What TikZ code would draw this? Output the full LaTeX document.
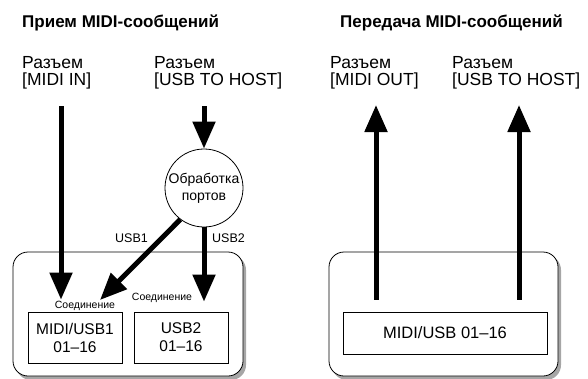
\documentclass[tikz,border=0pt]{standalone}
\usepackage{fontspec}
\setmainfont{Liberation Sans}
\usetikzlibrary{arrows.meta, positioning, calc}

\begin{document}
\begin{tikzpicture}[x=1pt, y=-1pt,
    heading/.style={font=\fontsize{17}{20}\selectfont\bfseries, anchor=base west, inner sep=0},
    jack/.style={font=\fontsize{17.5}{17.5}\selectfont, align=left, anchor=north west, inner sep=0},
    flow/.style={line width=5pt, -{Triangle[length=27pt, width=22pt]}},
    panel/.style={draw, line width=0.8pt, rounded corners=15pt, fill=white},
    shade/.style={fill=black!35, rounded corners=15pt},
    part/.style={draw, line width=0.8pt, font=\fontsize{15.5}{18}\selectfont, align=center, inner sep=0},
    tag/.style={font=\fontsize{10.5}{12}\selectfont, inner sep=0},
    portname/.style={font=\fontsize{12.5}{14}\selectfont, inner sep=0}]
    \useasboundingbox (0,0) rectangle (588,378);

    % receive side
    \node[heading] (rxtitle) at (22,27) {Прием MIDI-сообщений};
    \node[jack] (midiin) at (22,56) {Разъем\\{}[MIDI IN]};
    \node[jack] (usbin) at (154,56) {Разъем\\{}[USB TO HOST]};
    \fill[shade] (16,255) rectangle (246,380);
    \draw[panel] (13,252) rectangle (243,376);
    \node[part, minimum width=94pt, minimum height=51pt] (boxA) at (75,337.5) {MIDI/USB1\\01--16};
    \node[part, minimum width=94pt, minimum height=51pt] (boxB) at (181,337.5) {USB2\\01--16};
    \node[tag, anchor=south] (tagA) at (85,311) {Соединение};
    \node[tag] (tagB) at (162,298) {Соединение};
    \node[draw, circle, line width=0.8pt, minimum size=78pt, inner sep=0, align=center,
          font=\fontsize{14}{17}\selectfont] (proc) at (204,188) {Обработка\\портов};
    \coordinate (inA) at (61,106);
    \coordinate (inB) at (204,106);
    \coordinate (endA) at (100,300);
    \draw[flow, shorten >=12pt] (inA) -- (inA |- boxA.north);
    \draw[flow] (inB) -- (proc.north);
    \draw[flow] (proc.233) -- (endA);
    \draw[flow, shorten >=10pt] (proc.south) -- (proc.south |- boxB.north);
    \node[portname, anchor=east] (usb1) at (148,238) {USB1};
    \node[portname, anchor=west] (usb2) at (212,238) {USB2};

    % transmit side
    \node[heading] (txtitle) at (340,27) {Передача MIDI-сообщений};
    \node[jack] (midiout) at (330,56) {Разъем\\{}[MIDI OUT]};
    \node[jack] (usbout) at (452,56) {Разъем\\{}[USB TO HOST]};
    \fill[shade] (332,255) rectangle (561,380);
    \draw[panel] (329,252) rectangle (558,376);
    \node[part, minimum width=204pt, minimum height=42pt, font=\fontsize{16.5}{18}\selectfont] (boxC) at (445,333) {MIDI/USB 01--16};
    \coordinate (outA) at (376,105);
    \coordinate (outB) at (519,105);
    \draw[flow, shorten <=12pt] (outA |- boxC.north) -- (outA);
    \draw[flow, shorten <=12pt] (outB |- boxC.north) -- (outB);
\end{tikzpicture}
\end{document}
